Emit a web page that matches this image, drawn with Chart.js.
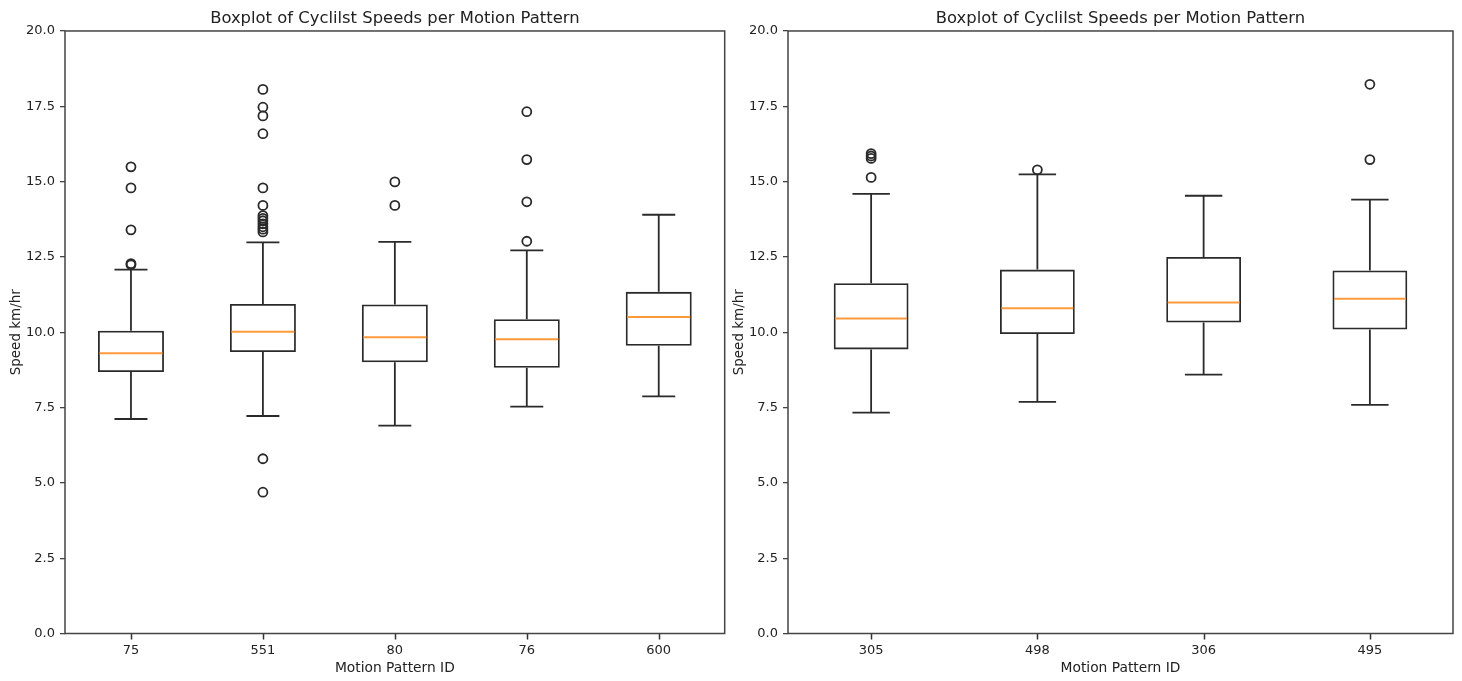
<!DOCTYPE html>
<html>
<head>
<meta charset="utf-8">
<script src="https://cdn.jsdelivr.net/npm/chart.js@4.4.1/dist/chart.umd.min.js"></script>
<style>
  body { margin: 0; background: #fff; width: 1462px; height: 681px; overflow: hidden; position: relative; }
  .wrap { position: absolute; top: 0; width: 731px; height: 681px; }
  #w1 { left: 0; }
  #w2 { left: 731px; }
</style>
</head>
<body>
<div class="wrap" id="w1"><canvas id="c1"></canvas></div>
<div class="wrap" id="w2"><canvas id="c2"></canvas></div>
<script>
// left panel
const leftIds = ['75', '551', '80', '76', '600'];
const leftLow = [7.12, 7.22, 6.90, 7.53, 7.87];
const leftQ1 = [8.68, 9.34, 9.00, 8.82, 9.55];
const leftMedian = [9.30, 10.02, 9.83, 9.77, 10.51];
const leftQ3 = [10.05, 10.94, 10.92, 10.43, 11.34];
const leftHigh = [12.08, 12.98, 13.00, 12.72, 13.90];
const leftOutliers = [
  [15.49, 14.79, 13.40, 12.28, 12.24],
  [18.06, 17.47, 17.18, 16.59, 14.79, 14.21, 13.87, 13.78, 13.70, 13.60, 13.50, 13.42, 13.33, 5.80, 4.69],
  [14.99, 14.21],
  [17.32, 15.73, 14.33, 13.02],
  []
];

// right panel
const rightIds = ['305', '498', '306', '495'];
const rightLow = [7.33, 7.69, 8.59, 7.59];
const rightQ1 = [9.43, 9.94, 10.32, 10.09];
const rightMedian = [10.46, 10.80, 10.99, 11.11];
const rightQ3 = [11.63, 12.08, 12.50, 12.05];
const rightHigh = [14.59, 15.24, 14.53, 14.40];
const rightOutliers = [
  [15.93, 15.85, 15.77, 15.14],
  [15.39],
  [],
  [18.23, 15.73]
];

const yTicks = [0, 2.5, 5, 7.5, 10, 12.5, 15, 17.5, 20];

Chart.defaults.font.family = 'DejaVu Sans';
Chart.defaults.color = '#222';

// whiskers, caps, medians, x tick marks and the axes frame
function boxParts(low, q1, med, q3, high, boxFrac) {
  return {
    id: 'boxParts',
    afterDraw(chart) {
      const { ctx, chartArea: a, scales: { x, y } } = chart;
      const half = (x.width / low.length) * boxFrac / 2;
      ctx.save();
      ctx.lineWidth = 1.8;
      ctx.strokeStyle = '#2a2a2a';
      low.forEach((lo, i) => {
        const cx = x.getPixelForValue(i);
        const yHi = y.getPixelForValue(high[i]);
        const yLo = y.getPixelForValue(lo);
        ctx.beginPath();
        ctx.moveTo(cx, y.getPixelForValue(q3[i])); ctx.lineTo(cx, yHi);
        ctx.moveTo(cx, y.getPixelForValue(q1[i])); ctx.lineTo(cx, yLo);
        ctx.moveTo(cx - half / 2, yHi); ctx.lineTo(cx + half / 2, yHi);
        ctx.moveTo(cx - half / 2, yLo); ctx.lineTo(cx + half / 2, yLo);
        ctx.stroke();
      });
      ctx.strokeStyle = '#ff9a3c';
      ctx.lineWidth = 2;
      med.forEach((m, i) => {
        const cx = x.getPixelForValue(i);
        const ym = y.getPixelForValue(m);
        ctx.beginPath();
        ctx.moveTo(cx - half + 1.5, ym); ctx.lineTo(cx + half - 1.5, ym);
        ctx.stroke();
      });
      ctx.strokeStyle = '#333';
      ctx.lineWidth = 1.5;
      ctx.beginPath();
      low.forEach((lo, i) => {
        const cx = Math.round(x.getPixelForValue(i)) + 0.5;
        ctx.moveTo(cx, a.bottom); ctx.lineTo(cx, a.bottom + 6);
      });
      ctx.stroke();
      ctx.strokeStyle = '#444';
      ctx.strokeRect(a.left, a.top, a.width, a.height);
      ctx.restore();
    }
  };
}

function makeChart(id, ids, low, q1, med, q3, high, outliers, boxFrac, yWidth, padRight, yTitlePad) {
  const points = [];
  outliers.forEach((list, i) => list.forEach(v => points.push({ x: ids[i], y: v })));

  new Chart(document.getElementById(id).getContext('2d'), {
    type: 'bar',
    data: {
      labels: ids,
      datasets: [{
        data: q1.map((v, i) => [v, q3[i]]),
        backgroundColor: 'rgba(0,0,0,0)',
        borderColor: '#2a2a2a',
        borderWidth: 1.8,
        borderSkipped: false,
        barPercentage: boxFrac,
        categoryPercentage: 1.0
      }, {
        type: 'line',
        data: points,
        showLine: false,
        pointRadius: 4.5,
        pointBackgroundColor: 'rgba(255,255,255,0)',
        pointBorderColor: '#2a2a2a',
        pointBorderWidth: 1.8
      }]
    },
    options: {
      responsive: true,
      maintainAspectRatio: false,
      animation: false,
      layout: { padding: { left: 0, right: padRight, top: 0, bottom: 0 } },
      plugins: {
        legend: { display: false },
        tooltip: { enabled: false },
        title: {
          display: true,
          fullSize: false,
          text: 'Boxplot of Cyclilst Speeds per Motion Pattern',
          color: '#222',
          font: { size: 16.4, weight: 'normal' },
          padding: { top: 8.5, bottom: 2.8 }
        }
      },
      scales: {
        x: {
          grid: { display: true, offset: false, drawOnChartArea: false, drawTicks: true, tickLength: 5, color: 'rgba(0,0,0,0)' },
          border: { display: false },
          ticks: { color: '#222', font: { size: 13 }, padding: 4.5 },
          title: { display: true, text: 'Motion Pattern ID', color: '#222', font: { size: 13.8 }, padding: { top: 0, bottom: 4 } },
          afterFit: s => { s.height = 47.5; }
        },
        y: {
          min: 0,
          max: 20,
          afterBuildTicks: s => { s.ticks = yTicks.map(v => ({ value: v })); },
          grid: { display: true, drawOnChartArea: false, drawTicks: true, tickLength: 5, color: '#444', lineWidth: 1.3 },
          border: { display: false },
          ticks: { color: '#222', font: { size: 13 }, padding: 5, callback: v => v.toFixed(1) },
          title: { display: true, text: 'Speed km/hr', color: '#222', font: { size: 13.5 }, padding: { top: yTitlePad, bottom: 0 } },
          afterFit: s => { s.width = yWidth; }
        }
      }
    },
    plugins: [boxParts(low, q1, med, q3, high, boxFrac)]
  });
}

makeChart('c1', leftIds, leftLow, leftQ1, leftMedian, leftQ3, leftHigh, leftOutliers, 0.5, 65, 4, 8);
makeChart('c2', rightIds, rightLow, rightQ1, rightMedian, rightQ3, rightHigh, rightOutliers, 0.45, 57, 9, 0);
</script>
</body>
</html>
